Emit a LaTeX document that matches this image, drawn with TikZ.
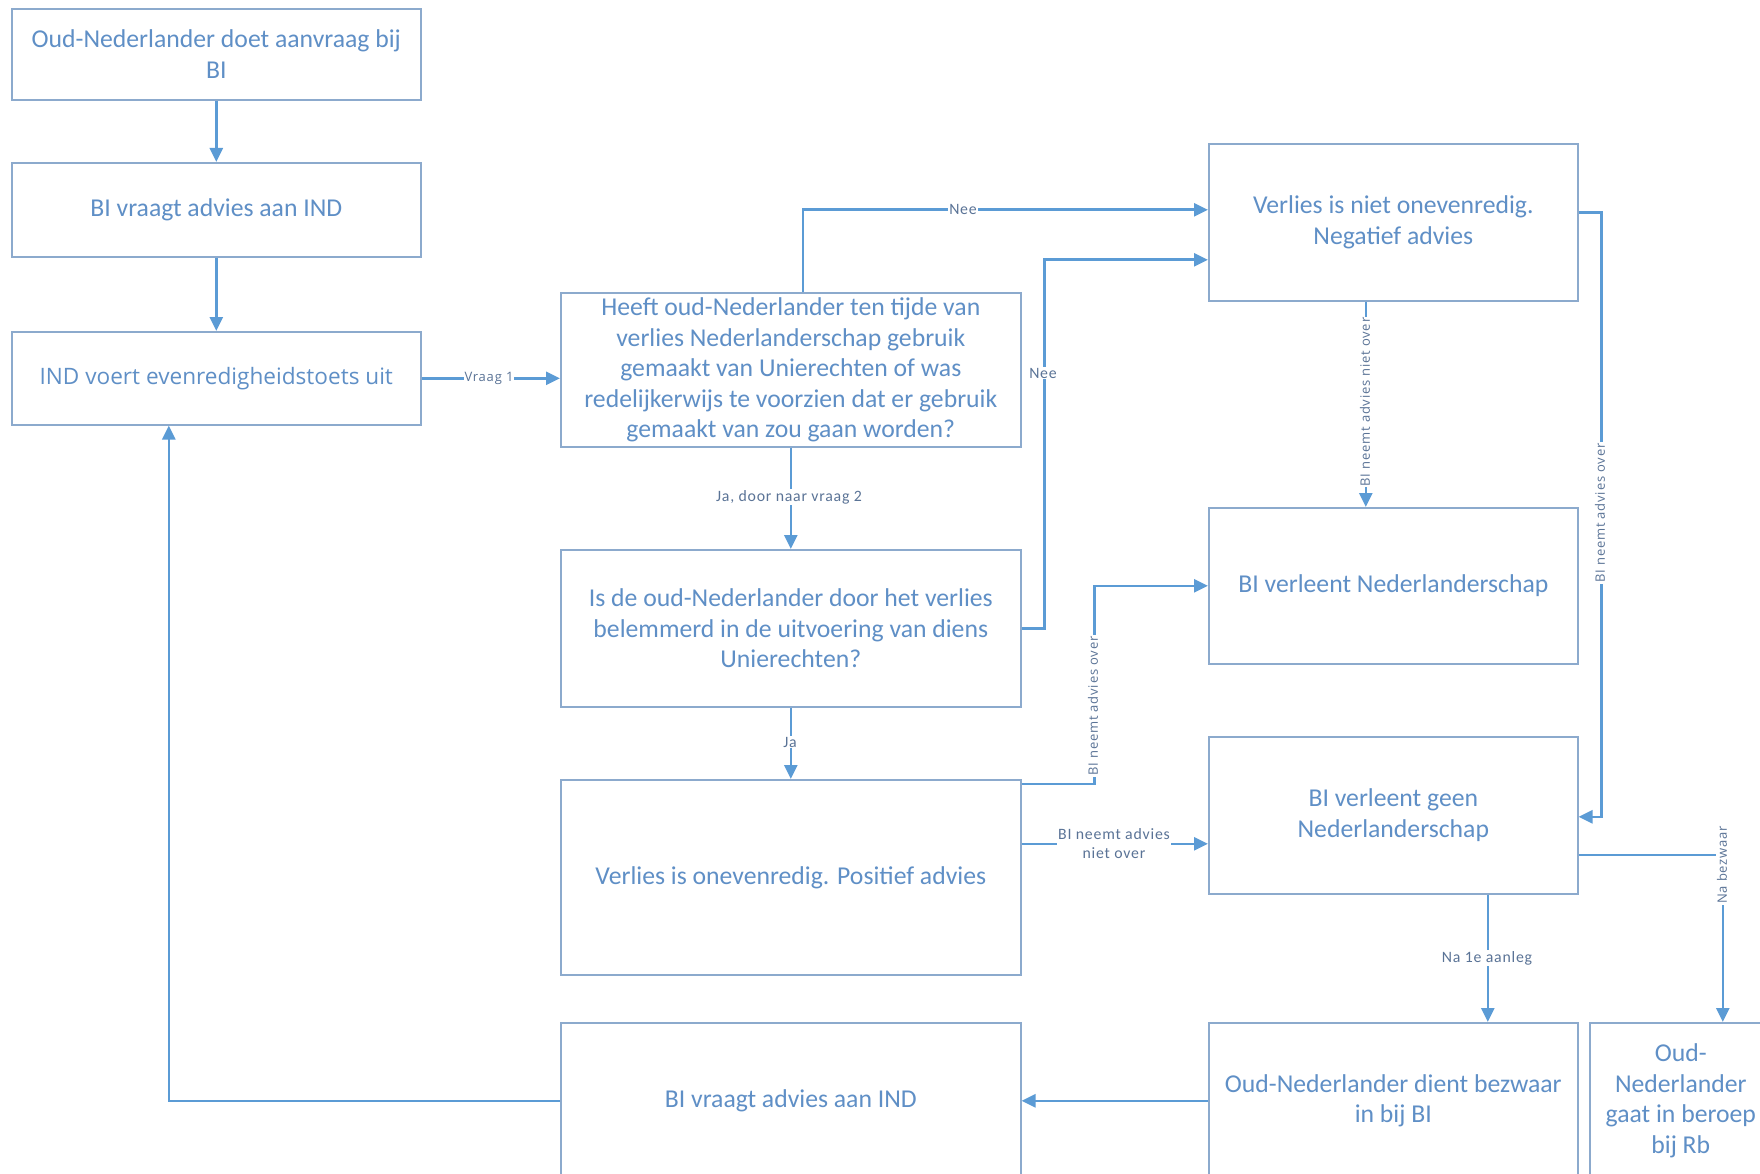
\documentclass[tikz,border=0pt]{standalone}
\usepackage{fontspec}
\setmainfont{Carlito}
\newfontfamily\segoe{Open Sans}[LetterSpace=6]
\newfontfamily\calsp{Carlito}[LetterSpace=5]
\newfontfamily\segoebox{Open Sans}
\usetikzlibrary{arrows.meta}
\definecolor{boxline}{RGB}{140,170,205}
\definecolor{txtblue}{RGB}{95,143,198}
\definecolor{arrowblue}{RGB}{91,155,213}
\definecolor{lblcol}{RGB}{90,115,150}
\begin{document}
\begin{tikzpicture}[x=1pt,y=-1pt,
  box/.style={draw=boxline,line width=1.6pt,fill=white,text=txtblue,align=center,inner sep=0pt,anchor=north west,font=\fontsize{25.7}{30.5}\selectfont},
  conn/.style={draw=arrowblue,line width=2.6pt,-{Triangle[length=14pt,width=13pt]}},
  lbl/.style={fill=white,inner sep=1pt,text=lblcol,align=center,font=\calsp\fontsize{15.8}{19}\selectfont},
  slbl/.style={fill=white,inner sep=1pt,text=lblcol,font=\segoe\fontsize{13}{15}\selectfont},
  vlbl/.style={slbl,rotate=90},
]
\useasboundingbox (0,0) rectangle (1760,1174);
\clip (0,0) rectangle (1760,1174);
\fill[white] (0,0) rectangle (1760,1174);

% boxes
\node[box,minimum width=409pt,minimum height=91pt] (b1) at (11,8) {Oud-Nederlander doet aanvraag bij\\BI};
\node[box,minimum width=409pt,minimum height=94pt] (b2) at (11,162) {BI vraagt advies aan IND};
\node[box,minimum width=409pt,minimum height=93pt,font=\segoebox\fontsize{22.6}{26}\selectfont] (b3) at (11,331) {IND voert evenredigheidstoets uit};
\node[box,minimum width=460pt,minimum height=154pt] (q1) at (560,292) {Heeft oud-Nederlander ten tijde van\\verlies Nederlanderschap gebruik\\gemaakt van Unierechten of was\\redelijkerwijs te voorzien dat er gebruik\\gemaakt van zou gaan worden?};
\node[box,minimum width=460pt,minimum height=157pt] (q2) at (560,549) {Is de oud-Nederlander door het verlies\\belemmerd in de uitvoering van diens\\Unierechten?};
\node[box,minimum width=460pt,minimum height=195pt] (pos) at (560,779) {Verlies is onevenredig. Positief advies};
\node[box,minimum width=460pt,minimum height=156pt] (bv2) at (560,1022) {BI vraagt advies aan IND};
\node[box,minimum width=369pt,minimum height=157pt] (neg) at (1208,143) {Verlies is niet onevenredig.\\Negatief advies};
\node[box,minimum width=369pt,minimum height=156pt] (verl) at (1208,507) {BI verleent Nederlanderschap};
\node[box,minimum width=369pt,minimum height=157pt] (geen) at (1208,736) {BI verleent geen\\Nederlanderschap};
\node[box,minimum width=369pt,minimum height=156pt] (bez) at (1208,1022) {Oud-Nederlander dient bezwaar\\in bij BI};
\node[box,minimum width=182pt,minimum height=156pt] (rb) at (1589,1022) {Oud-\\Nederlander\\gaat in beroep\\bij Rb};

% connectors
\draw[conn] (b1.south) -- (b2.north);
\draw[conn] (b2.south) -- (b3.north);
\draw[conn] (b3.east) -- (b3.east -| q1.west);
\draw[conn] ([xshift=12pt]q1.north) |- ([yshift=12.5pt]neg.west);
\draw[conn] (q1.south) -- (q2.north);
\draw[conn] (q2.east) -- ++(23,0) |- ([yshift=-37.5pt]neg.west);
\draw[conn] (q2.south) -- (pos.north);
\draw[conn] ([yshift=-5pt]pos.north east) -- ++(73,0) |- (verl.west);
\draw[conn] ([yshift=33.5pt]pos.east) -- ([yshift=-28.5pt]geen.west);
\draw[conn] ([xshift=-27.5pt]neg.south) -- ([xshift=-27.5pt]verl.north);
\draw[conn] ([yshift=9.5pt]neg.east) -- ++(23,0) |- ([yshift=-1.5pt]geen.east);
\draw[conn] ([xshift=94.5pt]geen.south) -- ([xshift=94.5pt]bez.north);
\draw[conn] ([yshift=-39.5pt]geen.east) -| ([xshift=42pt]rb.north);
\draw[conn] (bez.west) -- (bv2.east);
\draw[conn] (bv2.west) -| ([xshift=-47.5pt]b3.south);

% labels
\node[slbl] (l1) at (489,378) {Vraag 1};
\node[lbl] (l2) at (963,209) {Nee};
\node[lbl] (l3) at (1043,373) {Nee};
\node[lbl] (l4) at (789,497) {Ja, door naar vraag 2};
\node[lbl] (l5) at (790,742) {Ja};
\node[vlbl] (l6) at (1093,706) {BI neemt advies over};
\node[lbl] (l7) at (1114,844) {BI neemt advies\\niet over};
\node[vlbl] (l8) at (1365,402) {BI neemt advies niet over};
\node[vlbl] (l9) at (1600,513) {BI neemt advies over};
\node[lbl] (l10) at (1487,958) {Na 1e aanleg};
\node[vlbl] (l11) at (1722,865) {Na bezwaar};
\end{tikzpicture}
\end{document}
